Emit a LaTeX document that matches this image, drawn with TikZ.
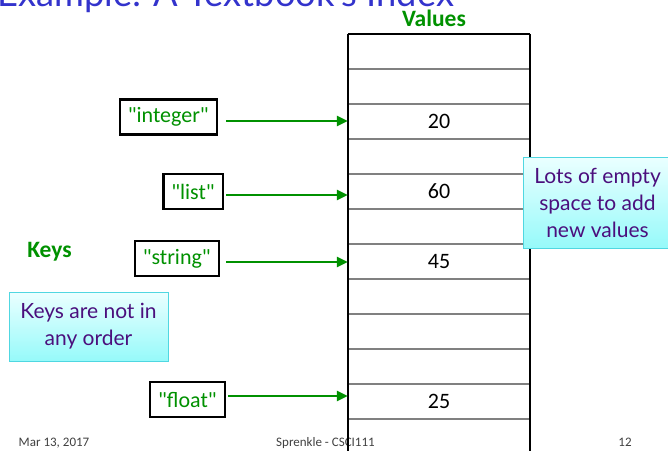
\documentclass[tikz,border=0pt]{standalone}
\usepackage{fontspec}
\setmainfont{Carlito}[Ligatures=TeXOff]
\newfontfamily\gillfont{Lato}
\usetikzlibrary{arrows.meta}
\definecolor{keygreen}{RGB}{0,145,0}
\definecolor{titleblue}{RGB}{51,51,204}
\definecolor{notepurple}{RGB}{75,15,125}
\definecolor{noteedge}{RGB}{80,215,225}
\definecolor{notetop}{RGB}{235,255,255}
\definecolor{notebottom}{RGB}{150,250,250}
\definecolor{rulegray}{RGB}{128,128,128}
\definecolor{footgray}{RGB}{64,64,64}
\tikzset{
  keybox/.style={draw=black, line width=2.5pt, fill=white, text=keygreen,
    font=\fontsize{22}{26}\selectfont, inner xsep=8pt, minimum height=35pt},
  keyarrow/.style={draw=keygreen, line width=2.5pt, -{Triangle[length=11pt,width=10pt]}},
  note/.style={draw=noteedge, line width=1pt, top color=notetop, bottom color=notebottom,
    text=notepurple, font=\gillfont\fontsize{21}{27}\selectfont, align=center},
  cell/.style={minimum width=182pt, minimum height=35pt, inner sep=0pt,
    font=\fontsize{22}{26}\selectfont},
  headlabel/.style={text=keygreen, font=\bfseries\fontsize{23.5}{26}\selectfont, anchor=base},
  foot/.style={text=footgray, font=\fontsize{13}{15}\selectfont, anchor=base}
}
\begin{document}
\begin{tikzpicture}[x=1pt,y=-1pt]
\useasboundingbox (0,0) rectangle (668,450);
% title, half off the slide
\node[anchor=base west, text=titleblue, font=\gillfont\fontsize{36.3}{40}\selectfont,
  inner sep=0pt] (title) at (-3,6) {Example: A Textbook's Index};
% footer
\node[foot] (date) at (54,446) {Mar 13, 2017};
\node[foot] (course) at (325.5,446) {Sprenkle - CSCI111};
\node[foot] (page) at (625,446) {12};
% the values, one cell per row
\foreach \i/\v in {0/{},1/{},2/20,3/{},4/60,5/{},6/45,7/{},8/{},9/{},10/25,11/{}}
  \node[cell] (c\i) at (439,51.5+35*\i) {\v};
\foreach \i in {1,...,11}
  \draw[rulegray, line width=1.5pt] (c\i.north west) -- (c\i.north east);
\draw[line width=2pt] (c0.north west) -- (c0.north east);
\draw[line width=2pt] (c0.north west) -- (c11.south west);
\draw[line width=2pt] (c0.north east) -- (c11.south east);
\node[headlabel] (vals) at (434,26) {Values};
% the keys
\node[headlabel] (keys) at (49.5,257) {Keys};
\node[keybox, anchor=east] (kint) at (218,117) {"integer"};
\node[keybox, anchor=east] (klist) at (224,191.5) {"list"};
\node[keybox, anchor=east] (kstr) at (220,258.5) {"string"};
\node[keybox, anchor=east] (kflt) at (226,399.5) {"float"};
\draw[keyarrow, shorten <=8pt] ([yshift=-4pt]kint.east) -- ([yshift=-4pt]kint.east -| c2.west);
\draw[keyarrow, shorten <=2pt] ([yshift=-3.5pt]klist.east) -- ([yshift=-3.5pt]klist.east -| c4.west);
\draw[keyarrow, shorten <=6pt] ([yshift=-3.5pt]kstr.east) -- ([yshift=-3.5pt]kstr.east -| c6.west);
\draw[keyarrow, shorten <=2pt] ([yshift=3.5pt]kflt.east) -- ([yshift=3.5pt]kflt.east -| c10.west);
% notes
\node[note, minimum width=149pt, minimum height=91pt] (space) at (597.5,202.5)
  {Lots of empty\\space to add\\new values};
\node[note, minimum width=159pt, minimum height=69pt] (order) at (88.5,326.5)
  {Keys are not in\\any order};
\end{tikzpicture}
\end{document}
